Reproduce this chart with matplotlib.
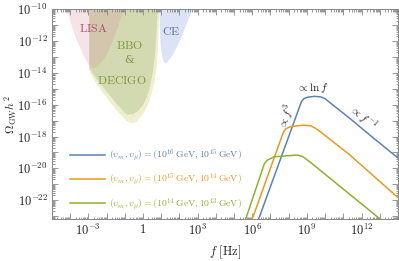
import numpy as np
import matplotlib
matplotlib.use("Agg")
import matplotlib.pyplot as plt
from matplotlib.ticker import FixedLocator, NullFormatter, LogLocator

plt.rcParams['mathtext.fontset'] = 'cm'
plt.rcParams['font.family'] = 'serif'
plt.rcParams['font.serif'] = ['DejaVu Serif']

# spectra: log10 f [Hz], log10 Omega h^2
blue_logf = [6.25, 8.70, 8.85, 9.05, 9.40, 9.75, 10.0, 10.3, 11.36, 12.5, 14.0]
blue_logo = [-23.5, -15.8, -15.6, -15.52, -15.47, -15.5, -15.62, -15.9, -16.86, -17.95, -19.35]
orange_logf = [5.90, 7.70, 7.85, 8.10, 8.80, 9.20, 9.50, 9.80, 11.36, 14.0]
orange_logo = [-23.5, -17.75, -17.5, -17.38, -17.28, -17.32, -17.5, -17.75, -19.16, -21.84]
green_logf = [5.55, 6.65, 6.80, 7.20, 8.46, 8.75, 9.00, 9.30, 13.0, 13.4]
green_logo = [-23.5, -19.75, -19.5, -19.27, -19.16, -19.25, -19.45, -19.72, -23.17, -23.5]

labels = [r'$(v_m, v_\mu) = (10^{16}\,\mathrm{GeV}, 10^{15}\,\mathrm{GeV})$',
          r'$(v_m, v_\mu) = (10^{15}\,\mathrm{GeV}, 10^{14}\,\mathrm{GeV})$',
          r'$(v_m, v_\mu) = (10^{14}\,\mathrm{GeV}, 10^{13}\,\mathrm{GeV})$']
colors = ['#5E81B5', '#E19C24', '#8FB032']

# sensitivity curves (lower boundaries)
lisa_logf = [-4.18, -3.95, -3.65, -3.27, -3.0, -2.85, -2.73, -2.55, -2.37, -2.1, -1.91, -1.65, -1.46, -1.25, -1.09]
lisa_logo = [-9.98, -10.9, -11.9, -12.87, -13.45, -13.65, -13.72, -13.65, -13.45, -13.05, -12.67, -12.0, -11.4, -10.7, -9.98]
bbo_logf = [-2.95, -2.95, -2.88, -2.6, -2.2, -1.82, -1.3, -0.9, -0.64, -0.4, -0.18, 0.05, 0.27, 0.47, 0.63, 0.75, 0.82, 0.90]
bbo_logo = [-9.98, -13.73, -14.05, -14.6, -15.25, -15.8, -16.55, -17.0, -17.17, -17.1, -16.85, -16.5, -16.02, -15.35, -14.55, -13.5, -12.45, -9.98]
decigo_logf = [-2.95, -2.95, -2.5, -1.91, -1.4, -1.0, -0.82, -0.55, -0.3, 0.0, 0.2, 0.36, 0.55, 0.66, 0.73, 0.82]
decigo_logo = [-9.98, -13.73, -14.45, -15.3, -16.0, -16.5, -16.62, -16.6, -16.42, -16.02, -15.55, -14.97, -13.92, -12.9, -11.82, -9.98]
ce_logf = [0.91, 0.93, 0.97, 1.04, 1.12, 1.22, 1.35, 1.64, 1.85, 2.09, 2.45, 2.73]
ce_logo = [-9.98, -11.3, -12.3, -12.87, -13.25, -13.4, -13.3, -12.87, -12.4, -11.82, -10.78, -9.98]

fig = plt.figure(figsize=(3.99, 2.61), dpi=100)
ax = fig.add_axes([0.130, 0.160, 0.8675, 0.804])
ax.set_xscale('log')
ax.set_yscale('log')


def region(lf, lo, fc, a):
    x = np.concatenate([[lf[0]], lf, [lf[-1]]])
    y = np.concatenate([[-9.0], lo, [-9.0]])
    ax.fill(10.0**x, 10.0**y, color=fc, alpha=a, lw=0)


region(bbo_logf, bbo_logo, '#dcdc98', 0.45)
region(decigo_logf, decigo_logo, '#9fb57a', 0.35)
region(lisa_logf, lisa_logo, '#d8809a', 0.22)
region(ce_logf, ce_logo, '#98a8e6', 0.32)

ax.text(10**-2.73, 10**-11.2, r'$\mathrm{LISA}$', color='#A8506C', fontsize=8.5, ha='center', va='center')
ax.text(10**-0.73, 10**-12.25, r'$\mathrm{BBO}$', color='#82963A', fontsize=8.5, ha='center', va='center')
ax.text(10**-0.73, 10**-13.19, '&', color='#82963A', fontsize=8, ha='center', va='center')
ax.text(10**-1.15, 10**-14.5, r'$\mathrm{DECIGO}$', color='#82963A', fontsize=8.5, ha='center', va='center')
ax.text(10**1.55, 10**-11.41, r'$\mathrm{CE}$', color='#5B6BB0', fontsize=8.5, ha='center', va='center')

for lf, lo, c, lab in zip([blue_logf, orange_logf, green_logf],
                          [blue_logo, orange_logo, green_logo], colors, labels):
    ax.plot(10.0**np.array(lf), 10.0**np.array(lo), color=c, lw=1.1, label=lab)

ax.text(10**9.3, 10**-14.95, r'$\propto \ln f$', fontsize=8, ha='center', va='center', color='#222222')
ax.text(10**7.9, 10**-16.75, r'$\propto f^3$', fontsize=8, ha='center', va='center', rotation=69, color='#222222')
ax.text(10**12.09, 10**-16.8, r'$\propto f^{-1}$', fontsize=8, ha='center', va='center', rotation=-41, color='#222222')

leg = ax.legend(loc='center left', bbox_to_anchor=(0.052, 0.187), frameon=False,
                borderaxespad=0, borderpad=0, handlelength=3.6, handletextpad=0.45,
                labelspacing=0.95, fontsize=7, labelcolor='linecolor')

ax.set_xlim(1e-5, 1e14)
ax.set_ylim(10**-23.2, 1e-10)

xmaj = [10.0**k for k in range(-5, 15)]
ax.xaxis.set_major_locator(FixedLocator(xmaj))
ax.set_xticklabels(['' if k % 3 else ('$1$' if k == 0 else '$10^{%d}$' % k) for k in range(-5, 15)])
ax.xaxis.set_minor_locator(LogLocator(base=10, subs=np.arange(2, 10), numticks=100))
ax.xaxis.set_minor_formatter(NullFormatter())
ymaj = [10.0**k for k in range(-23, -9)]
ax.yaxis.set_major_locator(FixedLocator(ymaj))
ax.set_yticklabels(['' if k % 2 else '$10^{%d}$' % k for k in range(-23, -9)])
ax.yaxis.set_minor_locator(LogLocator(base=10, subs=np.arange(2, 10), numticks=100))
ax.yaxis.set_minor_formatter(NullFormatter())

ax.tick_params(which='both', direction='in', top=True, right=True, color='#888888', width=0.6)
ax.tick_params(which='major', length=4, labelsize=9, labelcolor='#222222', pad=3)
ax.tick_params(which='minor', length=1.8)
for s in ax.spines.values():
    s.set_color('#888888')
    s.set_linewidth(0.7)

ax.set_xlabel(r'$f\ [\mathrm{Hz}]$', fontsize=9, color='#222222', va='center')
ax.xaxis.set_label_coords(0.5, -0.155)
ax.set_ylabel(r'$\Omega_{\rm GW}h^2$', fontsize=8.5, color='#222222', va='center')
ax.yaxis.set_label_coords(-0.118, 0.5)

fig.savefig('out.png', dpi=100)
